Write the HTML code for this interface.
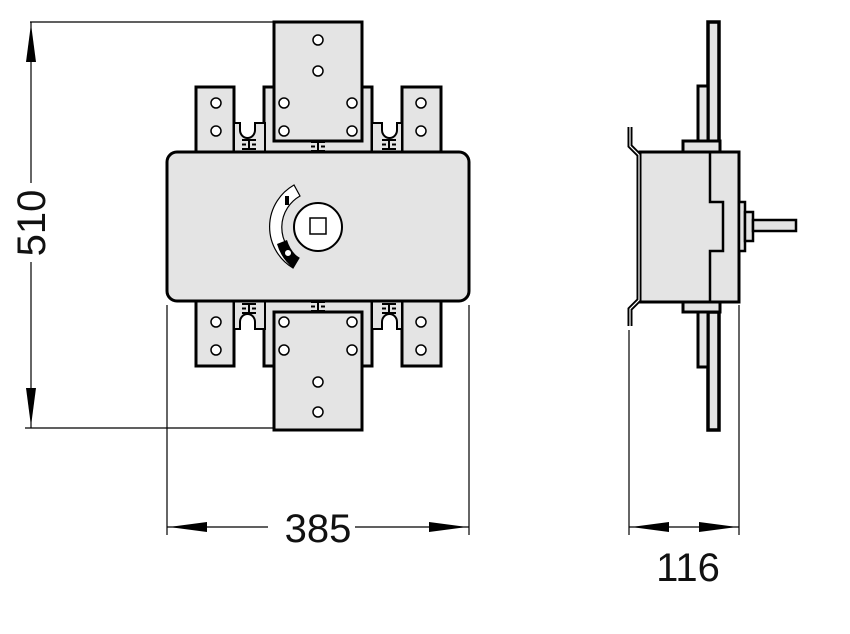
<!DOCTYPE html>
<html><head><meta charset="utf-8"><style>
html,body{margin:0;padding:0;background:#fff;}
svg{display:block;}
text{font-family:"Liberation Sans","DejaVu Sans",sans-serif;fill:#111;}
</style></head><body>
<svg width="850" height="634" viewBox="0 0 850 634" xmlns="http://www.w3.org/2000/svg">
<g fill="#e4e4e4" stroke="#000" stroke-width="3">
  <rect x="196" y="87" width="38" height="70"/>
  <rect x="402" y="87" width="39" height="70"/>
  <rect x="264" y="87" width="108" height="70"/>
  <path d="M234 123 H240 V130 A7.5 8 0 0 0 255 130 V123 H265 V157 H234 Z" stroke-width="2"/>
  <path d="M372 123 H382 V130 A7.5 8 0 0 0 397 130 V123 H402 V157 H372 Z" stroke-width="2"/>
  <rect x="196" y="296" width="38" height="70"/>
  <rect x="402" y="296" width="39" height="70"/>
  <rect x="264" y="296" width="108" height="70"/>
  <path d="M234 329 H240 V322 A7.5 8 0 0 1 255 322 V329 H265 V296 H234 Z" stroke-width="2"/>
  <path d="M372 329 H382 V322 A7.5 8 0 0 1 397 322 V329 H402 V296 H372 Z" stroke-width="2"/>
  <rect x="167" y="152" width="302" height="149" rx="10"/>
  <rect x="274" y="22" width="88" height="119"/>
  <rect x="274" y="312" width="88" height="118"/>
</g>
<g fill="none" stroke="#000" stroke-width="2">
  <path d="M242 140 h14 M242 149 h14 M249 140 v9 M242 144.5 h4 M252 144.5 h4"/>
  <path d="M311 142 h14 M311 151 h14 M318 142 v9 M311 146.5 h4 M321 146.5 h4"/>
  <path d="M382 140 h14 M382 149 h14 M389 140 v9 M382 144.5 h4 M392 144.5 h4"/>
  <path d="M242 304 h14 M242 313 h14 M249 304 v9 M242 308.5 h4 M252 308.5 h4"/>
  <path d="M311 302 h14 M311 311 h14 M318 302 v9 M311 306.5 h4 M321 306.5 h4"/>
  <path d="M382 304 h14 M382 313 h14 M389 304 v9 M382 308.5 h4 M392 308.5 h4"/>
</g>
<g fill="#fff" stroke="#000" stroke-width="1.5">
  <circle cx="318" cy="40" r="5"/><circle cx="318" cy="71" r="5"/>
  <circle cx="216" cy="103" r="5"/><circle cx="216" cy="131" r="5"/>
  <circle cx="421" cy="103" r="5"/><circle cx="421" cy="131" r="5"/>
  <circle cx="284" cy="103" r="5"/><circle cx="284" cy="131" r="5"/>
  <circle cx="352" cy="103" r="5"/><circle cx="352" cy="131" r="5"/>
  <circle cx="216" cy="322" r="5"/><circle cx="216" cy="350" r="5"/>
  <circle cx="421" cy="322" r="5"/><circle cx="421" cy="350" r="5"/>
  <circle cx="284" cy="322" r="5"/><circle cx="284" cy="350" r="5"/>
  <circle cx="352" cy="322" r="5"/><circle cx="352" cy="350" r="5"/>
  <circle cx="318" cy="382" r="5"/><circle cx="318" cy="412" r="5"/>
</g>
<path d="M294 185 A48 48 0 0 0 293 268 L299 258 A36 36 0 0 1 300 196 Z" fill="#fff" stroke="#000" stroke-width="1.2"/>
<path d="M277 244 A48 48 0 0 0 293 268 L299 258 A36 36 0 0 1 287 240 Z" fill="#000"/>
<circle cx="288" cy="253" r="3.5" fill="#fff" stroke="#000" stroke-width="1"/>
<rect x="285" y="196" width="4" height="9" fill="#000"/>
<circle cx="318" cy="227" r="24" fill="#fff" stroke="#000" stroke-width="2"/>
<rect x="310" y="218" width="16" height="16" fill="#fff" stroke="#000" stroke-width="1.5"/>

<g fill="#e4e4e4" stroke="#000" stroke-width="3">
  <rect x="708" y="22" width="11" height="120" stroke-width="3.5"/>
  <rect x="698" y="86" width="10" height="56"/>
  <rect x="708" y="312" width="11" height="118" stroke-width="3.5"/>
  <rect x="698" y="312" width="10" height="55"/>
  <rect x="683" y="141" width="37" height="11"/>
  <rect x="683" y="302" width="37" height="10"/>
  <rect x="640" y="152" width="99" height="150"/>
  <rect x="739" y="202" width="6" height="49" stroke-width="2.5"/>
  <rect x="745" y="212" width="8" height="29" stroke-width="2.5"/>
  <rect x="753" y="220" width="43" height="11" stroke-width="2.5"/>
</g>
<path d="M710 152 V202 H723 V251 H710 V302" fill="none" stroke="#000" stroke-width="2.5"/>
<polyline points="630,127 630,146 639,155 639,300 630,309 630,326" fill="none" stroke="#000" stroke-width="5"/>
<polyline points="630,127 630,146 639,155 639,300 630,309 630,326" fill="none" stroke="#fff" stroke-width="1.2"/>

<g stroke="#000" stroke-width="1.2" fill="none">
  <line x1="30" y1="22" x2="274" y2="22"/>
  <line x1="25" y1="428" x2="274" y2="428"/>
  <line x1="31" y1="22" x2="31" y2="183"/>
  <line x1="31" y1="262" x2="31" y2="428"/>
  <line x1="167" y1="305" x2="167" y2="535"/>
  <line x1="469" y1="305" x2="469" y2="535"/>
  <line x1="167" y1="527" x2="268" y2="527"/>
  <line x1="355" y1="527" x2="469" y2="527"/>
  <line x1="629" y1="330" x2="629" y2="535"/>
  <line x1="739" y1="305" x2="739" y2="535"/>
  <line x1="629" y1="527" x2="739" y2="527"/>
</g>
<g fill="#000">
  <polygon points="31,24 26,62 36,62"/>
  <polygon points="31,426 26,388 36,388"/>
  <polygon points="169,527 207,522 207,532"/>
  <polygon points="467,527 429,522 429,532"/>
  <polygon points="631,527 669,522 669,532"/>
  <polygon points="737,527 699,522 699,532"/>
</g>
<text x="318" y="542" font-size="40" text-anchor="middle">385</text>
<text x="688" y="581" font-size="40" text-anchor="middle">116</text>
<text x="0" y="0" font-size="40" text-anchor="middle" transform="translate(45,223) rotate(-90)">510</text>
</svg>
</body></html>
